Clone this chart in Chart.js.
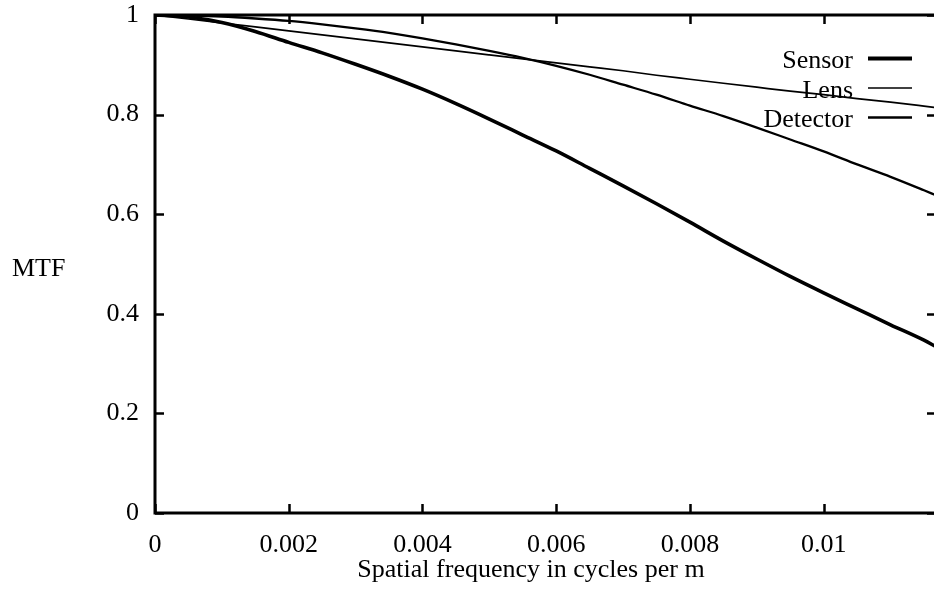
<!DOCTYPE html>
<html><head><meta charset="utf-8">
<script src="https://cdn.jsdelivr.net/npm/chart.js@4.4.1/dist/chart.umd.min.js"></script>
<style>
html,body{margin:0;padding:0;background:#fff;overflow:hidden;width:934px;height:593px;}
#wrap{position:relative;width:936px;height:593px;}
</style></head><body>
<div id="wrap"><canvas id="c"></canvas></div>
<script>
// ---- data ----
const spatialFrequency = [0,0.0005,0.001,0.0015,0.002,0.0025,0.003,0.0035,0.004,0.0045,0.005,0.0055,0.006,0.0065,0.007,0.0075,0.008,0.0085,0.009,0.0095,0.01,0.0105,0.011,0.0115,0.01168];
const sensorMTF   = [1.000,0.996,0.985,0.967,0.945,0.924,0.901,0.877,0.851,0.822,0.791,0.759,0.727,0.692,0.657,0.621,0.584,0.546,0.510,0.475,0.442,0.410,0.378,0.347,0.334];
const lensMTF     = [1.000,0.992,0.984,0.976,0.968,0.960,0.952,0.944,0.936,0.928,0.920,0.912,0.904,0.896,0.888,0.879,0.871,0.863,0.855,0.847,0.840,0.832,0.825,0.817,0.814];
const detectorMTF = [1.000,0.999,0.997,0.993,0.988,0.981,0.973,0.964,0.953,0.941,0.928,0.914,0.898,0.880,0.860,0.840,0.818,0.797,0.774,0.750,0.726,0.700,0.675,0.648,0.638];
const seriesNames = ['Sensor','Lens','Detector'];
const xTicks = [0,0.002,0.004,0.006,0.008,0.01];
const xTickLabels = ['0','0.002','0.004','0.006','0.008','0.01'];
const yTicks = [0,0.2,0.4,0.6,0.8,1];
const yTickLabels = ['0','0.2','0.4','0.6','0.8','1'];
const xTitle = 'Spatial frequency in cycles per m';
const yTitle = 'MTF';
const xMax = 0.01168;

// ---- styles ----
const FONT = '"Liberation Serif", "Times New Roman", serif';
const FS = 26;
const widths = [3.6, 1.7, 2.3];

const toPts = ys => spatialFrequency.map((x,i)=>({x, y: ys[i]}));
const seriesValues = [sensorMTF, lensMTF, detectorMTF];

const framePlugin = {
  id: 'frame',
  afterDraw(chart) {
    const ctx = chart.ctx, ca = chart.chartArea;
    const xs = chart.scales.x, ys = chart.scales.y;
    ctx.save();
    ctx.strokeStyle = '#000';
    ctx.lineWidth = 3;
    ctx.strokeRect(ca.left, ca.top, ca.right - ca.left, ca.bottom - ca.top);
    const tl = 9;
    ctx.lineWidth = 2.5;
    ctx.beginPath();
    xTicks.forEach(v => {
      const px = Math.round(xs.getPixelForValue(v)) + 0.5;
      ctx.moveTo(px, ca.bottom); ctx.lineTo(px, ca.bottom - tl);
      ctx.moveTo(px, ca.top); ctx.lineTo(px, ca.top + tl);
    });
    yTicks.forEach(v => {
      const py = Math.round(ys.getPixelForValue(v)) + 0.5;
      ctx.moveTo(ca.left, py); ctx.lineTo(ca.left + tl, py);
      ctx.moveTo(ca.right, py); ctx.lineTo(ca.right - tl, py);
    });
    ctx.stroke();

    // axis titles
    ctx.fillStyle = '#000';
    ctx.font = FS + 'px ' + FONT;
    ctx.textBaseline = 'alphabetic';
    ctx.textAlign = 'center';
    ctx.fillText(xTitle, 531, 577);
    ctx.textAlign = 'left';
    ctx.fillText(yTitle, 12, 276);

    // legend (text right-aligned, sample line to the right)
    const rows = [68, 97.5, 127];
    ctx.textAlign = 'right';
    seriesNames.forEach((name, i) => {
      ctx.fillText(name, 853, rows[i]);
      ctx.lineWidth = widths[i] + (i === 0 ? 0.6 : 0);
      ctx.beginPath();
      const ly = rows[i] - 9.5;
      ctx.moveTo(868, ly); ctx.lineTo(912, ly);
      ctx.stroke();
    });
    ctx.restore();
  }
};

new Chart(document.getElementById('c'), {
  type: 'scatter',
  data: {
    datasets: seriesNames.map((name, i) => ({
      label: name,
      data: toPts(seriesValues[i]),
      showLine: true,
      borderColor: '#000',
      backgroundColor: '#000',
      borderWidth: widths[i],
      pointRadius: 0,
      cubicInterpolationMode: 'monotone'
    }))
  },
  options: {
    responsive: true,
    maintainAspectRatio: false,
    animation: false,
    layout: { padding: { top: 15, right: 0, left: 0, bottom: 0 } },
    plugins: { legend: { display: false }, tooltip: { enabled: false } },
    scales: {
      x: {
        type: 'linear', min: 0, max: xMax,
        grid: { display: false }, border: { display: false },
        afterBuildTicks: s => { s.ticks = xTicks.map(v => ({ value: v })); },
        afterFit: s => { s.height = 80; s.paddingLeft = 0; s.paddingRight = 0; },
        ticks: {
          color: '#000', padding: 11, maxRotation: 0, autoSkip: false,
          font: { family: FONT, size: FS, lineHeight: 1 },
          callback: (v, i) => xTickLabels[i]
        }
      },
      y: {
        type: 'linear', min: 0, max: 1,
        grid: { display: false }, border: { display: false },
        afterBuildTicks: s => { s.ticks = yTicks.map(v => ({ value: v })); },
        afterFit: s => { s.width = 155; s.paddingTop = 0; s.paddingBottom = 0; },
        ticks: {
          color: '#000', padding: 8, autoSkip: false,
          font: { family: FONT, size: FS, lineHeight: 1 },
          callback: (v, i) => yTickLabels[i]
        }
      }
    }
  },
  plugins: [framePlugin]
});
</script>
</body></html>
